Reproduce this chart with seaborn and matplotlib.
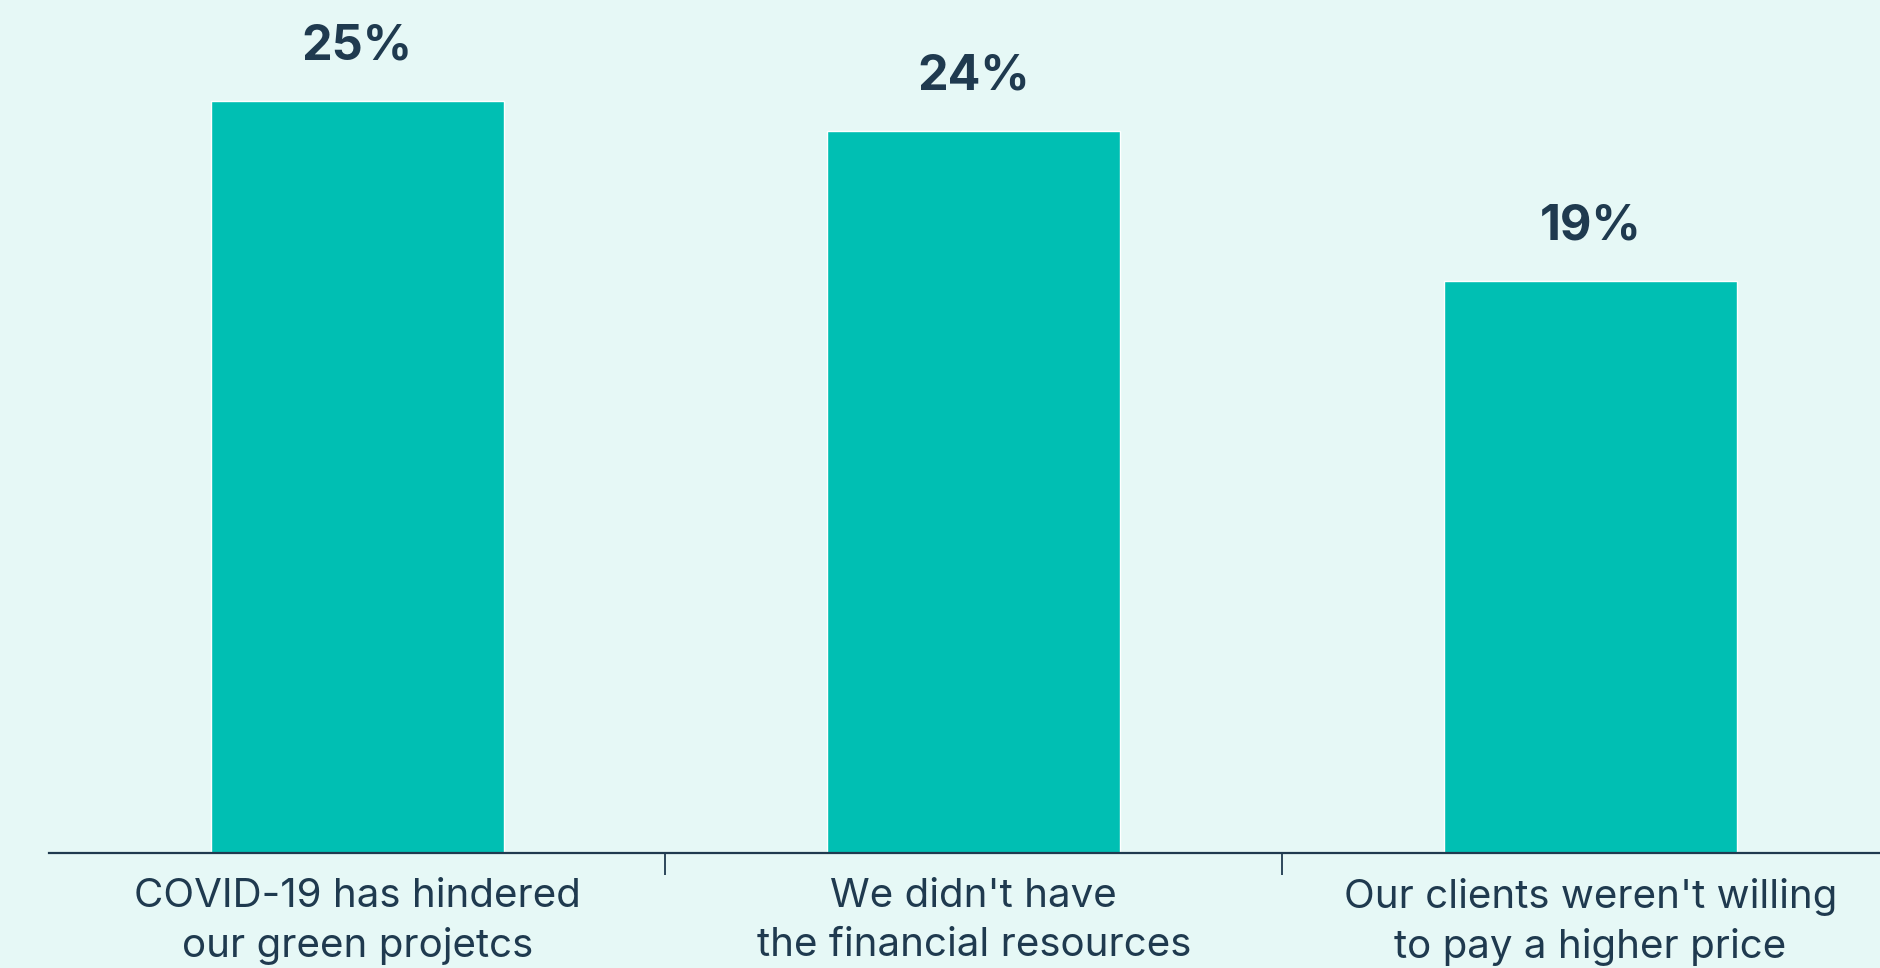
import numpy as np
import pandas as pd
import matplotlib.pyplot as plt
import seaborn as sns

# Datos
categorias = ["COVID-19 has hindered\nour green projetcs",
              "We didn't have\nthe financial resources",
              "Our clients weren't willing\nto pay a higher price"]
valores = [25, 24, 19]

fondo = "#E6F8F6"
barra = "#00BFB3"
texto = "#1F3A4F"

sns.set_theme(style="white")
plt.rcParams['font.family'] = ['Inter', 'DejaVu Sans']

df = pd.DataFrame({"categoria": categorias, "valor": valores})

fig = plt.figure(figsize=(18.8, 9.68), dpi=100, facecolor=fondo)
ax = fig.add_axes([0.026, 0.119, 0.974, 0.881])
ax.set_facecolor(fondo)

sns.barplot(data=df, x="categoria", y="valor", color=barra, width=0.475,
            saturation=1, ax=ax)

ax.set_xlim(-0.5, 2.47)
ax.set_ylim(0, 28.34)

# Etiquetas de valor sobre las barras
for i, v in enumerate(valores):
    ax.annotate(f"{v}%", (i, v), xytext=(0, 39), textcoords="offset points",
                ha="center", va="center", fontsize=35, fontweight="bold",
                color=texto)

# Ejes: solo la línea inferior, marcas entre categorías
for lado in ["top", "right", "left"]:
    ax.spines[lado].set_visible(False)
ax.spines["bottom"].set_color(texto)
ax.spines["bottom"].set_linewidth(1.6)
ax.spines["bottom"].set_zorder(5)
ax.set_yticks([])
ax.set_xticks([0.5, 1.5])
ax.set_xticklabels([])
ax.set_xticks(range(len(categorias)), minor=True)
ax.set_xticklabels(categorias, minor=True, fontsize=29, color=texto,
                   linespacing=1.42)
ax.tick_params(axis="x", which="major", length=16, width=1.3, color=texto,
               direction="out", bottom=True)
ax.tick_params(axis="x", which="minor", length=0, pad=18)
ax.set_xlabel("")
ax.set_ylabel("")

fig.savefig("out.png", dpi=100, facecolor=fondo)
